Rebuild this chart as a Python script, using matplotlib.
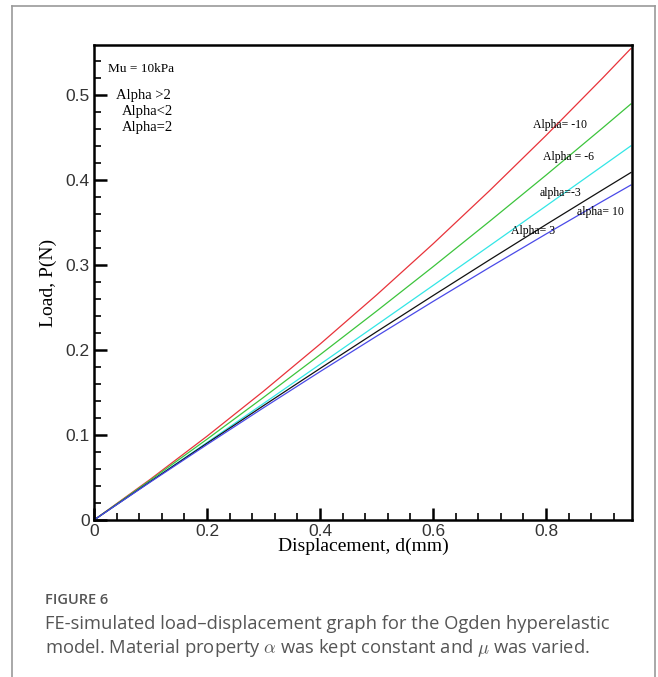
import matplotlib
matplotlib.use("Agg")
import matplotlib.pyplot as plt
from matplotlib.ticker import MultipleLocator
from matplotlib.lines import Line2D

plt.rcParams["mathtext.fontset"] = "cm"

# ---- data ----
disp = [0.0, 0.1, 0.2, 0.3, 0.4, 0.5, 0.6, 0.7, 0.8, 0.9, 0.95]
load_m10 = [0.0, 0.0481, 0.0986, 0.1516, 0.2070, 0.2648, 0.3250, 0.3876, 0.4526, 0.5201, 0.5548]
load_m6 = [0.0, 0.0470, 0.0951, 0.1443, 0.1945, 0.2458, 0.2981, 0.3515, 0.4059, 0.4614, 0.4896]
load_m3 = [0.0, 0.0455, 0.0912, 0.1371, 0.1832, 0.2295, 0.2760, 0.3227, 0.3696, 0.4167, 0.4403]
load_p3 = [0.0, 0.0454, 0.0903, 0.1346, 0.1783, 0.2215, 0.2641, 0.3062, 0.3477, 0.3886, 0.4089]
load_p10 = [0.0, 0.0448, 0.0888, 0.1321, 0.1746, 0.2163, 0.2572, 0.2973, 0.3366, 0.3752, 0.3942]

series = [load_m10, load_m6, load_m3, load_p3, load_p10]
colors = ["#e8333a", "#3cc43c", "#33e6e6", "#111111", "#4a4ae8"]
labels = ["Alpha= -10", "Alpha = -6", "alpha=-3", "Alpha= 3", "alpha= 10"]
label_pos = [(0.825, 0.465), (0.839, 0.427), (0.825, 0.385), (0.777, 0.340), (0.896, 0.362)]
legend_lines = ["Mu = 10kPa", "Alpha >2", "Alpha<2", "Alpha=2"]

x_ticks = [0, 0.2, 0.4, 0.6, 0.8]
x_ticklabels = ["0", "0.2", "0.4", "0.6", "0.8"]
y_ticks = [0, 0.1, 0.2, 0.3, 0.4, 0.5]
y_ticklabels = ["0", "0.1", "0.2", "0.3", "0.4", "0.5"]

W, H = 658, 677
fig = plt.figure(figsize=(W / 100, H / 100), dpi=100)

# card border
fig.add_artist(Line2D([12 / W, 12 / W], [0, 1 - 6 / H], color="#9a9a9a", lw=1.2))
fig.add_artist(Line2D([12 / W, 655 / W], [1 - 6 / H, 1 - 6 / H], color="#9a9a9a", lw=1.2))
fig.add_artist(Line2D([655 / W, 655 / W], [0, 1 - 6 / H], color="#9a9a9a", lw=1.2))

ax = fig.add_axes([94 / W, 1 - 520 / H, (632 - 94) / W, (520 - 45) / H])
for s, c in zip(series, colors):
    ax.plot(disp, s, color=c, lw=0.9)

ax.set_xlim(0, 0.952)
ax.set_ylim(0, 0.559)
ax.set_xticks(x_ticks)
ax.set_xticklabels(x_ticklabels)
ax.set_yticks(y_ticks)
ax.set_yticklabels(y_ticklabels)
ax.xaxis.set_minor_locator(MultipleLocator(0.04))
ax.yaxis.set_minor_locator(MultipleLocator(0.02))
ax.tick_params(which="major", direction="in", length=9, width=1.8, labelsize=12.5,
               top=False, right=False, pad=3, labelcolor="#333333")
ax.tick_params(which="minor", direction="in", length=5, width=1.2, top=False, right=False)
for lab in ax.get_xticklabels() + ax.get_yticklabels():
    lab.set_family("Liberation Sans")
for sp in ax.spines.values():
    sp.set_linewidth(1.8)

ax.set_xlabel("Displacement, d(mm)", family="Liberation Serif", fontsize=14, labelpad=-1)
ax.set_ylabel("Load, P(N)", family="Liberation Serif", fontsize=14, labelpad=6)

for (lx, ly), t in zip(label_pos, labels):
    ax.text(lx, ly, t, family="Liberation Serif", fontsize=8.5, ha="center", va="center")

fig.text(108 / W, 1 - 69 / H, legend_lines[0], family="Liberation Serif", fontsize=9.5,
         ha="left", va="center")
leg_xy = [(116, 95), (122, 111), (122, 127)]
for (px, py), t in zip(leg_xy, legend_lines[1:]):
    fig.text(px / W, 1 - py / H, t, family="Liberation Serif", fontsize=10.5,
             ha="left", va="center")

fig.text(45 / W, 1 - 600 / H, "FIGURE 6", family="Open Sans", fontsize=10.5,
         weight="semibold", color="#555555", va="center")
fig.text(45 / W, 1 - 624 / H,
         "FE-simulated load\u2013displacement graph for the Ogden hyperelastic",
         family="Open Sans", fontsize=13.2, color="#555555", va="center")
fig.text(45 / W, 1 - 648 / H,
         r"model. Material property $\alpha$ was kept constant and $\mu$ was varied.",
         family="Open Sans", fontsize=13.2, color="#555555", va="center")

fig.savefig("out.png", dpi=100)
